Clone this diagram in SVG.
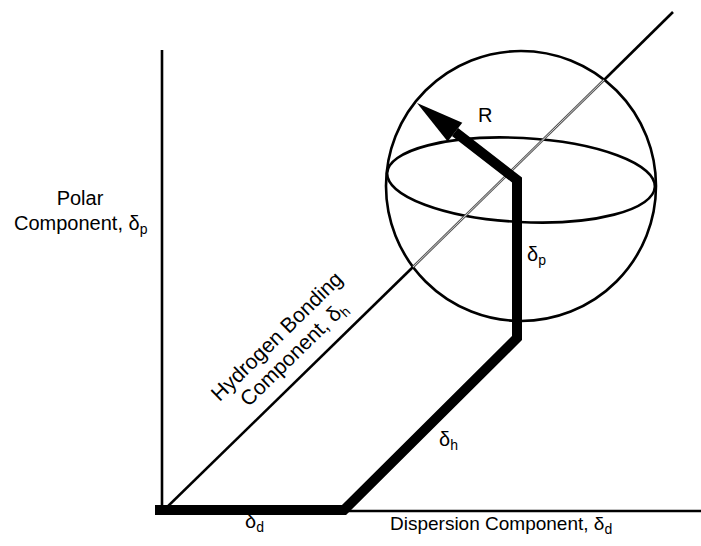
<svg xmlns="http://www.w3.org/2000/svg" width="701" height="546" viewBox="0 0 701 546">
<style>
.t{font-family:"Liberation Sans",Arial,sans-serif;font-size:20px;fill:#000}
.s{font-size:14px}
.thin{fill:none;stroke:#000;stroke-width:2.6}
.thick{fill:none;stroke:#000;stroke-width:10;stroke-linejoin:miter;stroke-miterlimit:10}
</style>
<rect width="701" height="546" fill="#fff"/>
<g id="axes">
<line class="thin" x1="162" y1="50" x2="162" y2="512"/>
<line class="thin" x1="155" y1="511" x2="701" y2="511"/>
</g>
<g id="sphere">
<circle class="thin" cx="521" cy="186" r="135"/>
<ellipse class="thin" cx="521" cy="180" rx="134" ry="42" transform="rotate(3 521 180)"/>
</g>
<g id="connectors">
<line class="thin" x1="162" y1="512" x2="413" y2="267"/>
<line class="thin" x1="604" y1="80" x2="673" y2="12"/>
<line x1="413" y1="267" x2="604" y2="80" stroke="#555" stroke-width="2.6"/>
<line x1="413" y1="267" x2="604" y2="80" stroke="#ddd" stroke-width="0.9"/>
<polyline class="thick" points="155,510 344,510 517,338 517,180 455,132"/>
<polygon points="417,103 462.3,122.7 447.7,141.5" fill="#000"/>
</g>
<g id="labels">
<text class="t" x="80" y="205" text-anchor="middle">Polar</text>
<text class="t" x="14" y="230">Component, δ<tspan class="s" dy="4">p</tspan></text>
<text class="t" x="390" y="530" style="font-size:19px">Dispersion Component, δ<tspan class="s" dy="4">d</tspan></text>
<text class="t" x="245" y="528">δ<tspan class="s" dy="4">d</tspan></text>
<text class="t" x="478" y="122">R</text>
<text class="t" x="527" y="261">δ<tspan class="s" dy="4">p</tspan></text>
<text class="t" x="439" y="446">δ<tspan class="s" dy="4">h</tspan></text>
<g transform="translate(298.5,358.5) rotate(-44.4)" style="font-size:21px">
<text class="t" x="0" y="-24" text-anchor="middle" style="font-size:21px">Hydrogen Bonding</text>
<text class="t" x="0" y="0" text-anchor="middle" style="font-size:21px">Component, δ<tspan class="s" dy="4">h</tspan></text>
</g>
</g>
</svg>
